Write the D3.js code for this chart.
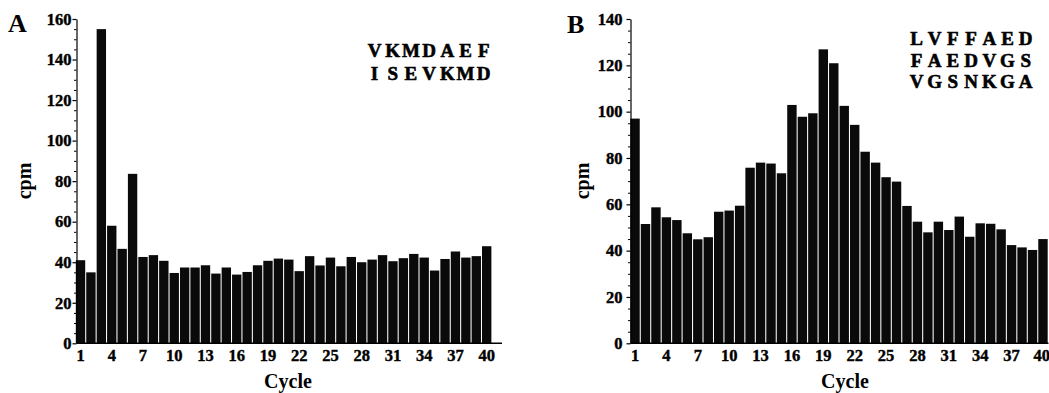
<!DOCTYPE html>
<html>
<head>
<meta charset="utf-8">
<script src="https://cdn.jsdelivr.net/npm/d3@7"></script>
<style>
  html, body { margin: 0; padding: 0; background: #fff; }
  svg { display: block; }
  .lbl { font-family: "Liberation Serif", "DejaVu Serif", serif; font-weight: bold; fill: #000; }
  .seq { font-family: "Liberation Serif", "DejaVu Serif", serif; font-weight: bold; fill: #000; stroke: #000; stroke-width: 0.6px; }
</style>
</head>
<body>
<svg id="chart" width="1049" height="393"></svg>
<script>
// ---- data ----
const cycles = d3.range(1, 41);
const xTickLabels = [1, 4, 7, 10, 13, 16, 19, 22, 25, 28, 31, 34, 37, 40];

const valuesA = [41, 35, 155, 58, 46.6, 83.6, 42.6, 43.5, 40.7, 34.7,
                 37.4, 37.4, 38.5, 34.4, 37.4, 33.9, 35.2, 38.5, 40.7, 41.8,
                 41.3, 35.6, 43.0, 38.4, 42.3, 38.0, 42.6, 40.0, 41.3, 43.5,
                 40.5, 42.0, 44.1, 42.3, 35.9, 41.6, 45.3, 42.3, 43.0, 47.9];
const yTicksA = [0, 20, 40, 60, 80, 100, 120, 140, 160];
const seqA = ["VKMDAEF", "ISEVKMD"];

const valuesB = [97, 51.5, 58.7, 54.4, 53.2, 47.5, 44.9, 45.8, 56.8, 57.3,
                 59.4, 75.8, 78.0, 77.6, 73.4, 102.9, 97.8, 99.3, 126.9, 120.9,
                 102.5, 94.3, 82.7, 78.0, 71.7, 69.8, 59.3, 52.5, 47.9, 52.5,
                 48.9, 54.7, 46.0, 51.8, 51.6, 49.2, 42.4, 41.4, 40.3, 45.0];
const yTicksB = [0, 20, 40, 60, 80, 100, 120, 140];
const seqB = ["LVFFAED", "FAEDVGS", "VGSNKGA"];

const panels = [
  { letter: "A", values: valuesA, yMax: 160, yTicks: yTicksA, seq: seqA,
    x0: 75.3, x1: 491.9, axisX: 76.5, axisEnd: 502, labelPad: 1,
    letterX: 8, letterY: 32, cpmX: 31, cycleX: 288, seqX: 368, seqY: 57, seqStep: 23 },
  { letter: "B", values: valuesB, yMax: 140, yTicks: yTicksB, seq: seqB,
    x0: 629.8, x1: 1048.2, axisX: 630.5, axisEnd: 1048.5, labelPad: 4,
    letterX: 567, letterY: 33, cpmX: 589, cycleX: 845, seqX: 910, seqY: 45, seqStep: 21.7 }
];

const svg = d3.select("#chart");
const yTop = 19, yBottom = 343.3;
const seqPitch = 18.2;

function styleLabels(sel, size) {
  sel.attr("font-size", size)
    .style("font-family", '"Liberation Serif", serif')
    .style("font-weight", "bold")
    .attr("stroke", "#000").attr("stroke-width", 0.4)
    .attr("fill", "#000");
}

panels.forEach(p => {
  const g = svg.append("g");
  const x = d3.scaleBand().domain(cycles).range([p.x0, p.x1]).paddingInner(0.1).paddingOuter(0.05);
  const y = d3.scaleLinear().domain([0, p.yMax]).range([yBottom, yTop]);

  // bars
  g.selectAll("rect.bar").data(p.values).enter().append("rect")
    .attr("class", "bar")
    .attr("x", (d, i) => x(cycles[i]))
    .attr("width", x.bandwidth())
    .attr("y", d => y(d))
    .attr("height", d => y(0) - y(d))
    .attr("fill", "#0a0a0a");

  // x axis baseline + labels
  g.append("line")
    .attr("x1", p.axisX).attr("x2", p.axisEnd)
    .attr("y1", yBottom).attr("y2", yBottom)
    .attr("stroke", "#000").attr("stroke-width", 1.5);
  const xAxis = d3.axisBottom(x).tickValues(xTickLabels).tickSize(0).tickPadding(6);
  const gx = g.append("g").attr("transform", `translate(0,${yBottom})`).call(xAxis);
  gx.select(".domain").remove();
  styleLabels(gx.selectAll("text"), 16.5);
  if (p.letter === "B") {
    gx.selectAll(".tick").filter(d => d === 40).select("text").attr("text-anchor", "end").attr("x", 7);
  }

  // y axis minor ticks
  const minor = d3.range(0, p.yMax + 0.1, 5).filter(v => v % 20 !== 0);
  const gyMinor = g.append("g").attr("transform", `translate(${p.axisX},0)`)
    .call(d3.axisLeft(y).tickValues(minor).tickSize(2.5).tickFormat(""));
  gyMinor.select(".domain").remove();
  // y axis major
  const gy = g.append("g").attr("transform", `translate(${p.axisX},0)`)
    .call(d3.axisLeft(y).tickValues(p.yTicks).tickSize(4).tickPadding(p.labelPad).tickSizeOuter(0));
  gy.select(".domain").attr("stroke-width", 1.2);
  gy.selectAll(".tick line").attr("stroke-width", 1.2);
  styleLabels(gy.selectAll("text"), 16.5);
  g.selectAll(".tick line").attr("stroke", "#000");

  // panel letter
  g.append("text").attr("class", "lbl")
    .attr("x", p.letterX).attr("y", p.letterY)
    .attr("font-size", 26).text(p.letter);

  // axis titles
  g.append("text").attr("class", "lbl")
    .attr("transform", `translate(${p.cpmX},181) rotate(-90)`)
    .attr("text-anchor", "middle").attr("font-size", 20).text("cpm");
  g.append("text").attr("class", "lbl")
    .attr("x", p.cycleX).attr("y", 388)
    .attr("text-anchor", "middle").attr("font-size", 20).text("Cycle");

  // sequences (monospaced grid of letters)
  p.seq.forEach((s, i) => {
    const t = g.append("text").attr("class", "seq")
      .attr("y", p.seqY + i * p.seqStep)
      .attr("font-size", 19).attr("text-anchor", "middle");
    t.selectAll("tspan").data(s.split("")).enter().append("tspan")
      .attr("x", (c, j) => p.seqX + 6.5 + j * seqPitch)
      .text(c => c);
  });
});
</script>
</body>
</html>
